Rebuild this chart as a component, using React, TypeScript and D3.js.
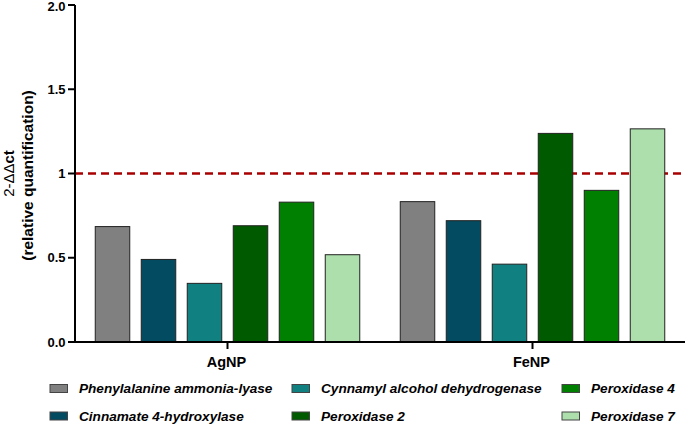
import React from "react";
import * as d3 from "d3";

const groups = ["AgNP", "FeNP"];
const genes = [
  "Phenylalanine ammonia-lyase",
  "Cinnamate 4-hydroxylase",
  "Cynnamyl alcohol dehydrogenase",
  "Peroxidase 2",
  "Peroxidase 4",
  "Peroxidase 7",
];
const agnpValues = [0.685, 0.49, 0.348, 0.69, 0.83, 0.518];
const fenpValues = [0.833, 0.72, 0.462, 1.238, 0.9, 1.265];
const colors = ["#808080", "#034b60", "#108080", "#005a00", "#008000", "#addfad"];
const yTicks = [0, 0.5, 1, 1.5, 2];
const yTickLabels = ["0.0", "0.5", "1", "1.5", "2.0"];
const referenceLevel = 1;

const W = 685;
const H = 425;
const FONT = "Arial, 'Liberation Sans', Helvetica, sans-serif";
const GROUP_W = 264.5;

export default function App() {
  const x0 = d3.scaleBand<string>().domain(groups).range([75, 685]);
  const x1 = d3
    .scaleBand<string>()
    .domain(genes)
    .range([0, GROUP_W])
    .paddingInner(0.25)
    .paddingOuter(0);
  const y = d3.scaleLinear().domain([0, 2]).range([342, 5]);
  const values = [agnpValues, fenpValues];

  const legendCols = [50, 292, 562];
  const legendRows = [388.5, 416];

  return (
    <svg
      width={W}
      height={H}
      style={{ position: "absolute", left: 0, top: 0, background: "#fff" }}
      fontFamily={FONT}
    >
      {/* reference dashed line */}
      <line
        x1={75}
        x2={685}
        y1={y(referenceLevel)}
        y2={y(referenceLevel)}
        stroke="#a80000"
        strokeWidth={2.6}
        strokeDasharray="8,5"
      />
      {/* bars */}
      {groups.map((g, gi) => {
        const gx = x0(g)! + (x0.bandwidth() - GROUP_W) / 2;
        return values[gi].map((v, i) => (
          <rect
            key={g + i}
            x={gx + x1(genes[i])!}
            y={y(v)}
            width={x1.bandwidth()}
            height={y(0) - y(v)}
            fill={colors[i]}
            stroke="#222"
            strokeWidth={1}
          />
        ));
      })}
      {/* y axis */}
      <line x1={75} x2={75} y1={y(2)} y2={y(0)} stroke="#000" strokeWidth={2} />
      {yTicks.map((t, i) => (
        <g key={t}>
          <line x1={68} x2={75} y1={y(t)} y2={y(t)} stroke="#000" strokeWidth={2} />
          <text
            x={65.5}
            y={y(t) + (t === 2 ? 1.2 : 0)}
            dy="0.36em"
            textAnchor="end"
            fontSize={13}
            fontWeight="bold"
          >
            {yTickLabels[i]}
          </text>
        </g>
      ))}
      {/* x axis */}
      <line x1={74} x2={685} y1={y(0)} y2={y(0)} stroke="#000" strokeWidth={2} />
      {groups.map((g) => {
        const cx = x0(g)! + x0.bandwidth() / 2;
        return (
          <g key={g}>
            <line x1={cx} x2={cx} y1={y(0)} y2={y(0) + 7} stroke="#000" strokeWidth={2} />
            <text x={cx - 1} y={367} textAnchor="middle" fontSize={14.5} fontWeight="bold">
              {g}
            </text>
          </g>
        );
      })}
      {/* y title */}
      <g transform={`translate(14, ${(y(0) + y(2)) / 2}) rotate(-90)`}>
        <text textAnchor="middle" fontSize={15}>
          <tspan fontWeight="normal">2-ΔΔ</tspan>
          <tspan fontWeight="bold">ct</tspan>
        </text>
      </g>
      <g transform={`translate(33, ${(y(0) + y(2)) / 2 + 2}) rotate(-90)`}>
        <text textAnchor="middle" fontSize={15.5} fontWeight="bold">
          (relative quantification)
        </text>
      </g>
      {/* legend */}
      {genes.map((gname, i) => {
        const col = Math.floor(i / 2);
        const row = i % 2;
        const lx = legendCols[col];
        const ly = legendRows[row];
        return (
          <g key={gname}>
            <rect
              x={lx}
              y={ly - 4}
              width={17.5}
              height={8}
              fill={colors[i]}
              stroke="#444"
              strokeWidth={1}
            />
            <text
              x={lx + 29}
              y={ly + 4.5}
              fontSize={13.6}
              fontWeight="bold"
              fontStyle="italic"
            >
              {gname}
            </text>
          </g>
        );
      })}
    </svg>
  );
}
